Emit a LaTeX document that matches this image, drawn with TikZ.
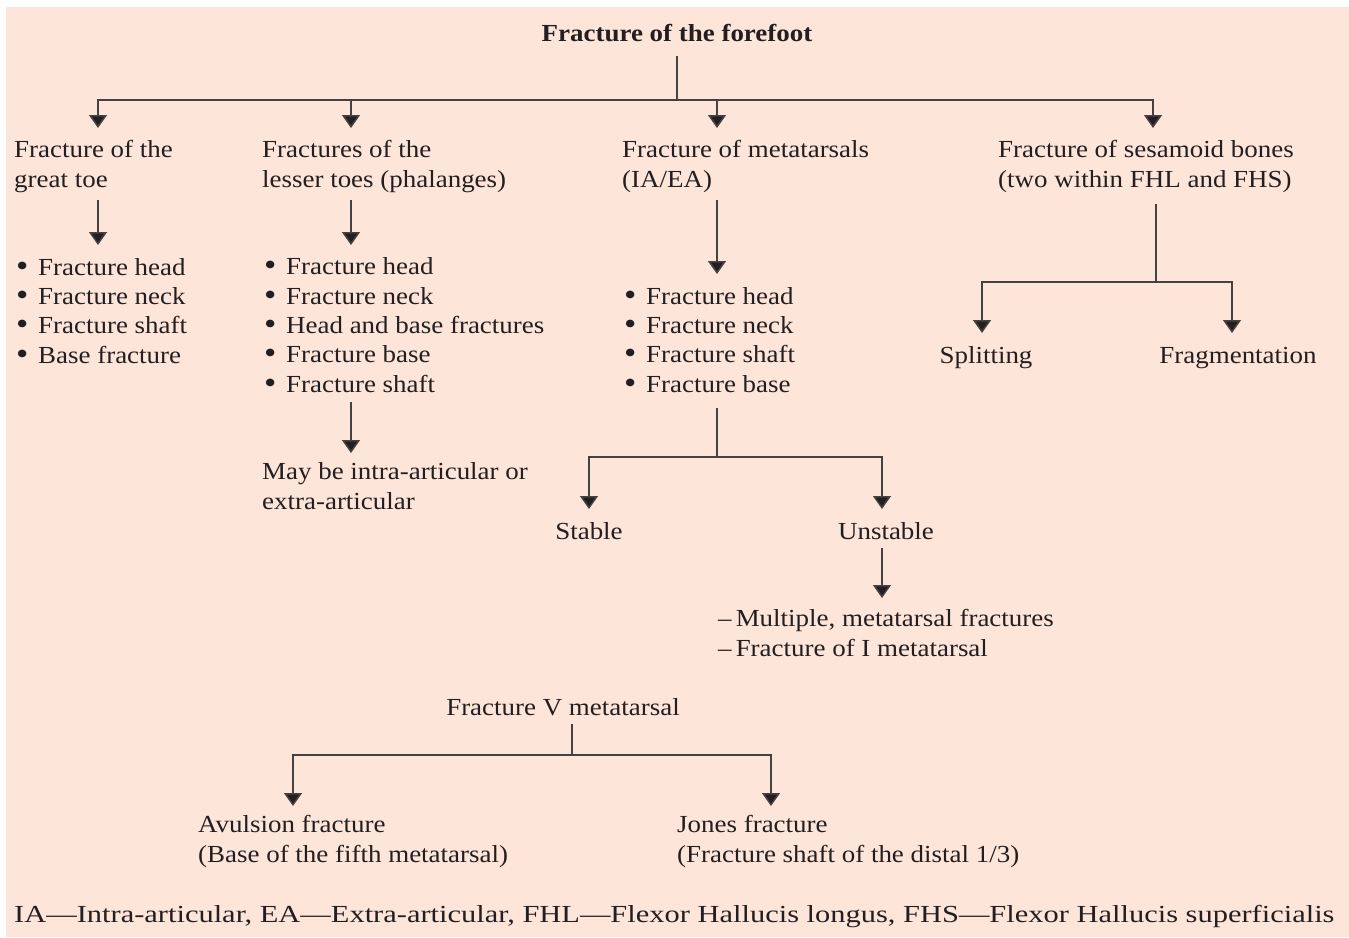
\documentclass[tikz,border=0pt]{standalone}
\usepackage{fontspec}
\setmainfont[FakeStretch=1.1]{Liberation Serif}
\usetikzlibrary{arrows.meta}
\definecolor{bgcol}{RGB}{253,229,218}
\definecolor{txtcol}{RGB}{35,31,32}
\definecolor{lncol}{RGB}{70,66,66}
\tikzset{
  conn/.style={draw=lncol, line width=1.5pt},
  arr/.style={conn, -{Triangle[width=18pt,length=13pt,fill=txtcol]}},
  txt/.style={inner sep=0pt, text=txtcol, align=left, font=\fontsize{24.5}{29.3}\selectfont},
  lft/.style={txt, anchor=base west},
  ctr/.style={txt, anchor=base},
}
\newcommand{\bul}{\makebox[22pt][l]{\smash{\raisebox{-1pt}{\scalebox{1.3}{\textbullet}}}}}
\begin{document}
\begin{tikzpicture}[x=1pt,y=-1pt]
\useasboundingbox (0,0) rectangle (1349,937);
\fill[bgcol] (6,7) rectangle (1349,937);

% texts (base anchor = baseline of the last line)
\node[ctr] (title) at (677,41) {\textbf{Fracture of the forefoot}};
\node[lft] (h1) at (14,187) {Fracture of the\\great toe};
\node[lft] (h2) at (262,187) {Fractures of the\\lesser toes (phalanges)};
\node[lft] (h3) at (622,187) {Fracture of metatarsals\\(IA/EA)};
\node[lft] (h4) at (998,187) {Fracture of sesamoid bones\\(two within FHL and FHS)};

\node[lft] (l1) at (16,363) {\bul Fracture head\\\bul Fracture neck\\\bul Fracture shaft\\\bul Base fracture};
\node[lft] (l2) at (264,392) {\bul Fracture head\\\bul Fracture neck\\\bul Head and base fractures\\\bul Fracture base\\\bul Fracture shaft};
\node[lft] (l3) at (624,392) {\bul Fracture head\\\bul Fracture neck\\\bul Fracture shaft\\\bul Fracture base};

\node[lft] (may) at (262,509) {May be intra-articular or\\extra-articular};
\node[ctr] (stable) at (589,539) {Stable};
\node[ctr] (unstable) at (886,539) {Unstable};
\node[lft] (ulist) at (718,656) {--\,Multiple, metatarsal fractures\\--\,Fracture of I metatarsal};

\node[ctr] (split) at (986,363) {Splitting};
\node[ctr] (frag) at (1238,363) {Fragmentation};

\node[ctr] (v5) at (563,715) {Fracture V metatarsal};
\node[lft] (avul) at (198,862) {Avulsion fracture\\(Base of the fifth metatarsal)};
\node[lft] (jones) at (677,862) {Jones fracture\\(Fracture shaft of the distal 1/3)};

\node[lft] (foot) at (14,922) {\scalebox{1.13}[1]{IA---Intra-articular, EA---Extra-articular, FHL---Flexor Hallucis longus, FHS---Flexor Hallucis superficialis}};

% coordinates
\coordinate (t0) at (677,56);
\coordinate (b0) at (677,100);
\coordinate (a1) at (98,128);
\coordinate (a2) at (351,128);
\coordinate (a3) at (717,128);
\coordinate (a4) at (1153,128);

\coordinate (s1) at (98,200);   \coordinate (e1) at (98,245);
\coordinate (s2) at (351,200);  \coordinate (e2) at (351,245);
\coordinate (s3) at (717,200);  \coordinate (e3) at (717,274);
\coordinate (s2b) at (351,402); \coordinate (e2b) at (351,453);

\coordinate (m0) at (717,408);  \coordinate (m1) at (717,457);
\coordinate (ms) at (589,509);  \coordinate (mu) at (882,509);
\coordinate (u0) at (882,548);  \coordinate (u1) at (882,598);

\coordinate (k0) at (1156,204); \coordinate (k1) at (1156,282);
\coordinate (ks) at (982,333);  \coordinate (kf) at (1232,333);

\coordinate (v0) at (572,724);  \coordinate (v1) at (572,755);
\coordinate (va) at (293,806);  \coordinate (vj) at (771,806);

% connectors
\draw[conn] (t0) -- (b0);
\draw[arr] (b0) -| (a1);
\draw[arr] (b0) -| (a2);
\draw[arr] (b0) -| (a3);
\draw[arr] (b0) -| (a4);

\draw[arr] (s1) -- (e1);
\draw[arr] (s2) -- (e2);
\draw[arr] (s3) -- (e3);
\draw[arr] (s2b) -- (e2b);

\draw[conn] (m0) -- (m1);
\draw[arr] (m1) -| (ms);
\draw[arr] (m1) -| (mu);
\draw[arr] (u0) -- (u1);

\draw[conn] (k0) -- (k1);
\draw[arr] (k1) -| (ks);
\draw[arr] (k1) -| (kf);

\draw[conn] (v0) -- (v1);
\draw[arr] (v1) -| (va);
\draw[arr] (v1) -| (vj);
\end{tikzpicture}
\end{document}
